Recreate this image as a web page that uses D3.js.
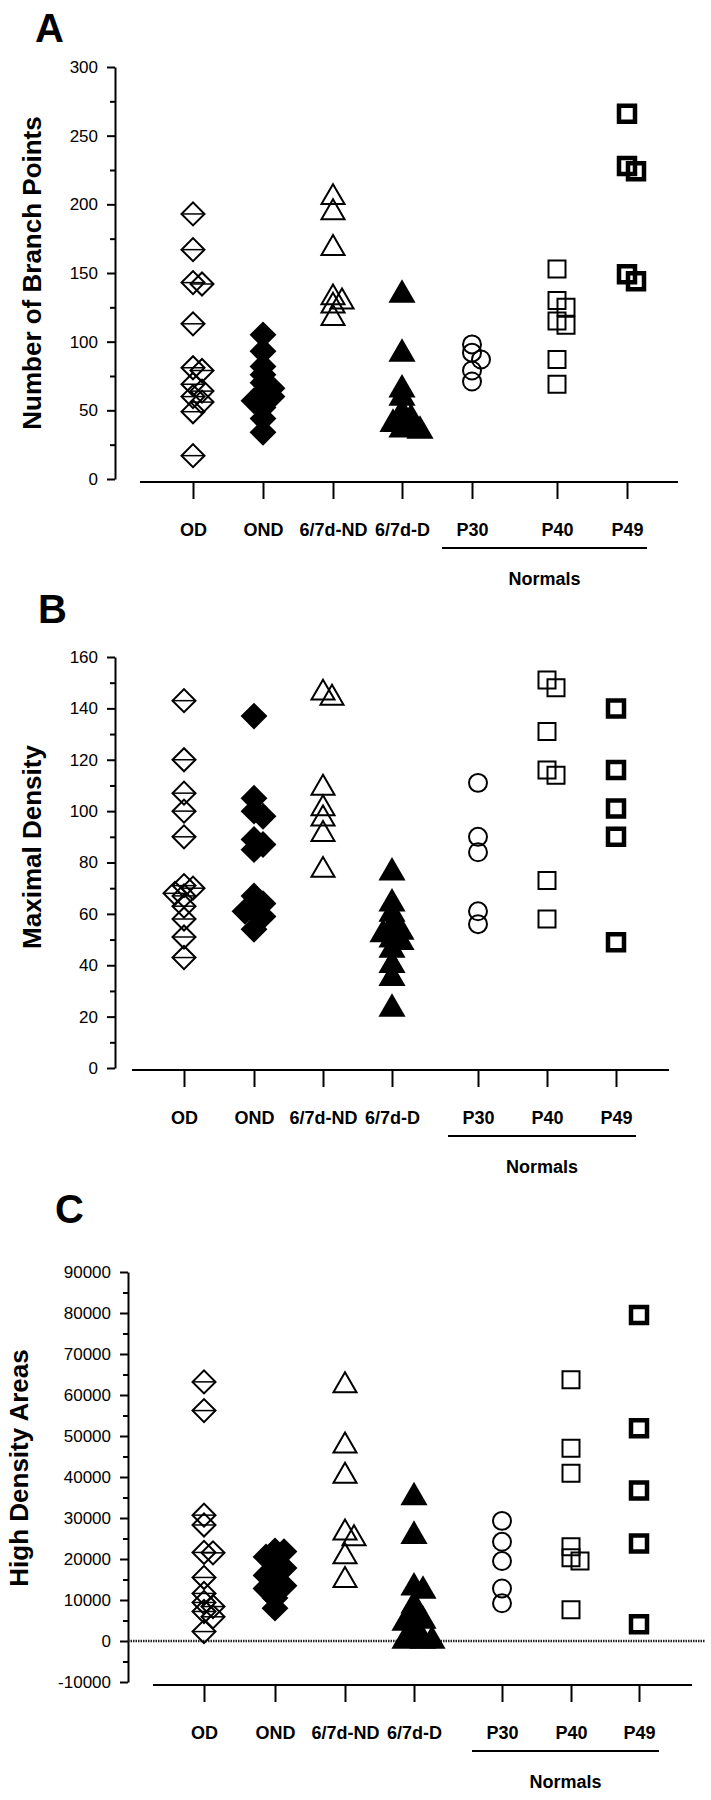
<!DOCTYPE html>
<html>
<head>
<meta charset="utf-8">
<script src="https://cdn.jsdelivr.net/npm/d3@7"></script>
<style>
  body { margin: 0; background: #fff; }
  text { font-family: "Liberation Sans", Arial, Helvetica, sans-serif; fill: #000; }
</style>
</head>
<body>
<div id="chart-area"></div>
<script>
// Scatter of dendrite measurements per group, three stacked panels


//////////  Data  ///////////

var categories = ['OD', 'OND', '6/7d-ND', '6/7d-D', 'P30', 'P40', 'P49'];
var normalGroups = ['P30', 'P40', 'P49'];

// A - Number of branch points
var branchOD  = [193, 167, 143, 142, 113, 81, 79, 69, 64, 60, 56, 49, 17];
var branchOND = [105, 93, 82, 76, 70, 66, 62, 60, 57, 52, 44, 34];
var branchND  = [205, 194, 168, 132, 129, 126, 117];
var branchD   = [134, 91, 65, 59, 48, 44, 42, 40, 38, 36, 35];
var branchP30 = [98, 92, 87, 79, 71];
var branchP40 = [153, 130, 125, 115, 112, 87, 69];
var branchP49 = [266, 228, 224, 149, 144];

// B - Maximal density
var densityOD  = [143, 120, 107, 100, 90, 71, 70, 68, 67, 63, 58, 51, 43];
var densityOND = [137, 105, 100, 98, 89, 87, 85, 67, 64, 61, 61, 59, 54];
var densityND  = [146, 144, 109, 101, 97, 91, 77];
var densityD   = [76, 64, 60, 55, 53, 52, 50, 49, 46, 40, 35, 23];
var densityP30 = [111, 90, 84, 61, 56];
var densityP40 = [151, 148, 131, 116, 114, 73, 58];
var densityP49 = [140, 116, 101, 90, 49];

// C - High density areas
var areaOD  = [63200, 56200, 30700, 28300, 21600, 21500, 15500, 11600, 9400, 8400, 7200, 5900, 2300];
var areaOND = [22000, 21800, 20500, 19500, 17800, 17000, 16000, 14500, 13500, 12800, 10500, 8000];
var areaND  = [62300, 47600, 40200, 26400, 25000, 20600, 14800];
var areaD   = [35000, 25600, 13000, 12200, 8600, 6000, 4900, 4400, 3500, 800, 0, 0, 0];
var areaP30 = [29300, 24200, 19500, 12800, 9200];
var areaP40 = [63700, 47000, 40900, 23000, 20300, 19500, 7600];
var areaP49 = [79500, 51900, 36700, 23800, 4100];


//////////  Layout of the three panels  ///////////

var panels = [
    { letter: "A", letterX: 35, letterY: 42,
      title: "Number of Branch Points", titleX: 32, titleY: 273,
      series: [branchOD, branchOND, branchND, branchD, branchP30, branchP40, branchP49],
      domain: [0, 300], yRange: [479, 67], major: 50, minor: 25, axisX: 115,
      baseY: 482, baseX: [140, 678], ticksX: [193, 263, 333, 402, 472, 557, 627],
      zeroLine: false },
    { letter: "B", letterX: 38, letterY: 623,
      title: "Maximal Density", titleX: 32, titleY: 847,
      series: [densityOD, densityOND, densityND, densityD, densityP30, densityP40, densityP49],
      domain: [0, 160], yRange: [1068, 657], major: 20, minor: 10, axisX: 115,
      baseY: 1070, baseX: [132, 669], ticksX: [184, 254, 323, 392, 478, 547, 616],
      zeroLine: false },
    { letter: "C", letterX: 55, letterY: 1223,
      title: "High Density Areas", titleX: 19, titleY: 1468,
      series: [areaOD, areaOND, areaND, areaD, areaP30, areaP40, areaP49],
      domain: [-10000, 90000], yRange: [1682, 1272], major: 10000, minor: 5000, axisX: 128,
      baseY: 1685, baseX: [153, 692], ticksX: [204, 275, 345, 414, 502, 571, 639],
      zeroLine: true }
];

// marker style per category
var markerKinds = ['diamondLine', 'diamondFill', 'triangleOpen', 'triangleFill',
                   'circle', 'square', 'squareThick'];


var svg = d3.select("#chart-area")
    .append("svg")
        .attr("width", 711)
        .attr("height", 1800)
        .style("background", "#fff");


// Spread points that would sit on top of each other
function dodge(values, yScale) {
    var placed = [];
    var order = values.map(function(v, i){ return i; })
        .sort(function(a, b){ return values[b] - values[a]; });
    var offsets = [0, 9, -9, 18, -18];
    order.forEach(function(i){
        var y = yScale(values[i]);
        for (var k = 0; k < offsets.length; k++) {
            var ok = placed.every(function(p){
                return Math.hypot(p.dx - offsets[k], p.y - y) >= 8;
            });
            if (ok || k === offsets.length - 1) {
                placed.push({ dx: offsets[k], y: y, v: values[i] });
                break;
            }
        }
    });
    return placed;
}

function drawMarker(g, kind) {
    if (kind === 'diamondLine') {
        g.append("path")
            .attr("d", d3.symbol(d3.symbolSquare, 265)())
            .attr("transform", "rotate(45)")
            .attr("fill", "none").attr("stroke", "#000").attr("stroke-width", 2);
        g.append("line")
            .attr("x1", -11).attr("x2", 11)
            .attr("stroke", "#000").attr("stroke-width", 1.5);
    } else if (kind === 'diamondFill') {
        g.append("path")
            .attr("d", d3.symbol(d3.symbolSquare, 360)())
            .attr("transform", "rotate(45)")
            .attr("fill", "#000");
    } else if (kind === 'triangleOpen') {
        g.append("path")
            .attr("d", d3.symbol(d3.symbolTriangle, 230)())
            .attr("fill", "none").attr("stroke", "#000").attr("stroke-width", 2);
    } else if (kind === 'triangleFill') {
        g.append("path")
            .attr("d", d3.symbol(d3.symbolTriangle, 320)())
            .attr("fill", "#000");
    } else if (kind === 'circle') {
        g.append("path")
            .attr("d", d3.symbol(d3.symbolCircle, 254)())
            .attr("fill", "none").attr("stroke", "#000").attr("stroke-width", 2);
    } else if (kind === 'square') {
        g.append("path")
            .attr("d", d3.symbol(d3.symbolSquare, 289)())
            .attr("fill", "none").attr("stroke", "#000").attr("stroke-width", 2);
    } else {
        g.append("path")
            .attr("d", d3.symbol(d3.symbolSquare, 256)())
            .attr("fill", "none").attr("stroke", "#000").attr("stroke-width", 4.5);
    }
}


panels.forEach(function(p){

    var g = svg.append("g").attr("class", "panel");

    // Scales
    var y = d3.scaleLinear()
        .domain(p.domain)
        .range(p.yRange);

    var x = d3.scaleOrdinal()
        .domain(categories)
        .range(p.ticksX);

    // Panel letter
    g.append("text")
        .attr("x", p.letterX)
        .attr("y", p.letterY)
        .attr("font-size", "40px")
        .attr("font-weight", "bold")
        .text(p.letter);

    // Y label
    g.append("text")
        .attr("transform", "translate(" + p.titleX + "," + p.titleY + ") rotate(-90)")
        .attr("text-anchor", "middle")
        .attr("dy", "0.36em")
        .attr("font-size", "26px")
        .attr("font-weight", "bold")
        .text(p.title);

    //////////  Y axis  ///////////
    var majors = d3.range(p.domain[0], p.domain[1] + 1, p.major);
    var minors = d3.range(p.domain[0], p.domain[1] + 1, p.minor)
        .filter(function(v){ return majors.indexOf(v) < 0; });

    var yAxisCall = d3.axisLeft(y)
        .tickValues(majors)
        .tickSize(8)
        .tickSizeOuter(0)
        .tickPadding(9)
        .tickFormat(function(d){ return String(d); });

    var yAxis = g.append("g")
        .attr("class", "y-axis")
        .attr("transform", "translate(" + p.axisX + ",0)")
        .call(yAxisCall);
    yAxis.selectAll("path, line").attr("stroke", "#000").attr("stroke-width", 2);
    yAxis.selectAll("text")
        .attr("font-size", "17px")
        .attr("font-family", "'Liberation Sans', Arial, sans-serif")
        .attr("fill", "#000");

    var yMinorCall = d3.axisLeft(y)
        .tickValues(minors)
        .tickSize(5)
        .tickSizeOuter(0)
        .tickFormat("");
    var yMinor = g.append("g")
        .attr("class", "y-minor")
        .attr("transform", "translate(" + p.axisX + ",0)")
        .call(yMinorCall);
    yMinor.select(".domain").remove();
    yMinor.selectAll("line").attr("stroke", "#000").attr("stroke-width", 2);

    // dotted zero line
    if (p.zeroLine) {
        g.append("line")
            .attr("x1", p.axisX).attr("x2", 705)
            .attr("y1", y(0)).attr("y2", y(0))
            .attr("stroke", "#222")
            .attr("stroke-width", 2.5)
            .attr("stroke-dasharray", "1.5,1");
    }

    //////////  X axis  ///////////
    g.append("line")
        .attr("x1", p.baseX[0]).attr("x2", p.baseX[1])
        .attr("y1", p.baseY).attr("y2", p.baseY)
        .attr("stroke", "#000").attr("stroke-width", 2);

    var xAxisCall = d3.axisBottom(x)
        .tickSize(17)
        .tickSizeOuter(0);
    var xAxis = g.append("g")
        .attr("class", "x-axis")
        .attr("transform", "translate(0," + p.baseY + ")")
        .call(xAxisCall);
    xAxis.select(".domain").remove();
    xAxis.selectAll("line").attr("stroke", "#000").attr("stroke-width", 2);
    xAxis.selectAll("text")
        .attr("y", 54)
        .attr("dy", 0)
        .attr("font-size", "18px")
        .attr("font-weight", "bold")
        .attr("font-family", "'Liberation Sans', Arial, sans-serif")
        .attr("fill", "#000");

    // Normals bracket
    var nx1 = x(normalGroups[0]) - 30;
    var nx2 = x(normalGroups[normalGroups.length - 1]) + 20;
    g.append("line")
        .attr("x1", nx1).attr("x2", nx2)
        .attr("y1", p.baseY + 66).attr("y2", p.baseY + 66)
        .attr("stroke", "#000").attr("stroke-width", 2);
    g.append("text")
        .attr("x", (nx1 + nx2) / 2)
        .attr("y", p.baseY + 103)
        .attr("text-anchor", "middle")
        .attr("font-size", "18px")
        .attr("font-weight", "bold")
        .text("Normals");

    //////////  Points  ///////////
    p.series.forEach(function(values, ci){
        var pts = dodge(values, y);
        var cx = x(categories[ci]);
        pts.forEach(function(pt){
            var mg = g.append("g")
                .attr("class", "point")
                .attr("transform", "translate(" + (cx + pt.dx) + "," + pt.y + ")");
            drawMarker(mg, markerKinds[ci]);
        });
    });
});

</script>
</body>
</html>
